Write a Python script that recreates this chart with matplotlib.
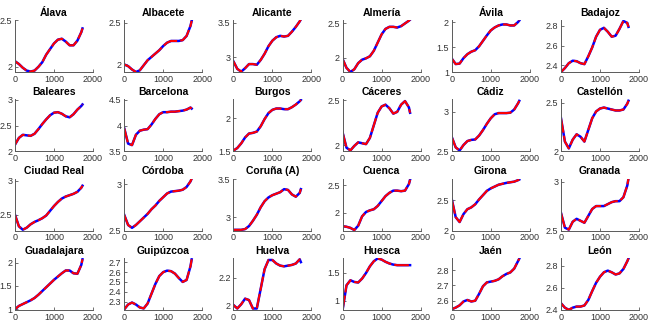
import numpy as np
import matplotlib
matplotlib.use('Agg')
import matplotlib.pyplot as plt
from matplotlib.ticker import FuncFormatter

plt.rcParams['font.family'] = ['Liberation Sans', 'DejaVu Sans']

x = [0, 100, 200, 300, 400, 500, 600, 700, 800, 900, 1000,
     1100, 1200, 1300, 1400, 1500, 1600, 1700, 1730]

provinces = ['Álava', 'Albacete', 'Alicante', 'Almería', 'Ávila', 'Badajoz',
             'Baleares', 'Barcelona', 'Burgos', 'Cáceres', 'Cádiz', 'Castellón',
             'Ciudad Real', 'Córdoba', 'Coruña (A)', 'Cuenca', 'Girona', 'Granada',
             'Guadalajara', 'Guipúzcoa', 'Huelva', 'Huesca', 'Jaén', 'León']

alava = [2.06, 2.03, 1.99, 1.96, 1.95, 1.96, 2.00, 2.05, 2.13, 2.19, 2.25,
         2.29, 2.30, 2.27, 2.23, 2.23, 2.28, 2.37, 2.41]
albacete = [2.00, 1.98, 1.94, 1.91, 1.93, 1.99, 2.05, 2.09, 2.13, 2.17, 2.22,
            2.26, 2.28, 2.28, 2.28, 2.29, 2.34, 2.46, 2.52]
alicante = [2.94, 2.83, 2.79, 2.84, 2.90, 2.90, 2.89, 2.96, 3.05, 3.16, 3.24,
            3.29, 3.31, 3.30, 3.31, 3.37, 3.44, 3.52, 3.55]
almeria = [1.98, 1.85, 1.79, 1.83, 1.92, 1.97, 1.99, 2.02, 2.10, 2.22, 2.34,
           2.42, 2.45, 2.45, 2.44, 2.46, 2.50, 2.54, 2.555]
avila = [1.27, 1.16, 1.17, 1.28, 1.36, 1.41, 1.44, 1.52, 1.63, 1.74, 1.84,
         1.90, 1.94, 1.96, 1.96, 1.94, 1.94, 2.01, 2.04]
badajoz = [2.33, 2.37, 2.42, 2.445, 2.44, 2.42, 2.41, 2.49, 2.58, 2.69, 2.76,
           2.78, 2.74, 2.69, 2.70, 2.77, 2.85, 2.83, 2.79]
baleares = [2.13, 2.26, 2.32, 2.31, 2.30, 2.34, 2.43, 2.53, 2.62, 2.70, 2.75,
            2.76, 2.73, 2.68, 2.66, 2.72, 2.81, 2.88, 2.91]
barcelona = [3.95, 3.65, 3.62, 3.82, 3.90, 3.92, 3.93, 4.02, 4.13, 4.22, 4.26,
             4.26, 4.27, 4.27, 4.28, 4.29, 4.31, 4.35, 4.33]
burgos = [1.51, 1.55, 1.62, 1.71, 1.77, 1.78, 1.80, 1.88, 1.99, 2.08, 2.13,
          2.15, 2.15, 2.14, 2.14, 2.17, 2.21, 2.26, 2.28]
caceres = [2.14, 1.97, 1.94, 1.99, 2.03, 2.02, 2.01, 2.08, 2.22, 2.36, 2.43,
           2.45, 2.41, 2.35, 2.37, 2.45, 2.49, 2.42, 2.36]
cadiz = [2.68, 2.55, 2.51, 2.58, 2.63, 2.645, 2.65, 2.70, 2.77, 2.85, 2.92,
         2.97, 2.985, 2.985, 2.985, 2.99, 3.03, 3.11, 3.14]
castellon = [2.34, 2.10, 2.03, 2.12, 2.175, 2.15, 2.10, 2.22, 2.34, 2.41, 2.44,
             2.45, 2.44, 2.43, 2.42, 2.42, 2.43, 2.49, 2.52]
ciudad_real = [2.50, 2.33, 2.28, 2.31, 2.36, 2.395, 2.42, 2.45, 2.49, 2.56, 2.63,
               2.69, 2.74, 2.77, 2.79, 2.81, 2.84, 2.90, 2.93]
cordoba = [2.67, 2.56, 2.53, 2.56, 2.60, 2.64, 2.68, 2.73, 2.77, 2.82, 2.86,
           2.90, 2.92, 2.925, 2.93, 2.94, 2.97, 3.03, 3.06]
coruna = [2.83, 2.83, 2.83, 2.84, 2.88, 2.95, 3.03, 3.13, 3.21, 3.26, 3.29,
          3.31, 3.33, 3.37, 3.36, 3.30, 3.27, 3.32, 3.37]
cuenca = [1.75, 1.74, 1.72, 1.68, 1.76, 1.93, 2.01, 2.04, 2.06, 2.12, 2.21,
          2.30, 2.36, 2.40, 2.40, 2.39, 2.40, 2.52, 2.60]
girona = [2.51, 2.22, 2.14, 2.27, 2.35, 2.38, 2.43, 2.51, 2.58, 2.65, 2.69,
          2.72, 2.75, 2.765, 2.78, 2.79, 2.80, 2.825, 2.835]
granada = [2.68, 2.53, 2.51, 2.59, 2.62, 2.60, 2.58, 2.65, 2.72, 2.75, 2.75,
           2.75, 2.77, 2.79, 2.80, 2.80, 2.84, 2.96, 3.03]
guadalajara = [1.00, 1.07, 1.11, 1.15, 1.19, 1.24, 1.31, 1.39, 1.47, 1.55, 1.63,
               1.70, 1.77, 1.83, 1.83, 1.77, 1.76, 1.95, 2.07]
guipuzcoa = [2.22, 2.27, 2.29, 2.27, 2.24, 2.23, 2.28, 2.38, 2.48, 2.56, 2.60,
             2.615, 2.61, 2.585, 2.54, 2.50, 2.52, 2.66, 2.73]
huelva = [2.005, 1.98, 2.01, 2.05, 2.04, 1.98, 1.98, 2.12, 2.26, 2.325, 2.325,
          2.30, 2.285, 2.28, 2.285, 2.29, 2.30, 2.33, 2.31]
huesca = [0.84, 1.28, 1.37, 1.34, 1.33, 1.40, 1.50, 1.62, 1.71, 1.76, 1.74,
          1.70, 1.67, 1.65, 1.64, 1.64, 1.64, 1.64, 1.64]
jaen = [2.545, 2.555, 2.57, 2.595, 2.605, 2.595, 2.60, 2.645, 2.695, 2.72, 2.725,
        2.73, 2.74, 2.76, 2.775, 2.785, 2.81, 2.86, 2.875]
leon = [2.46, 2.42, 2.40, 2.42, 2.43, 2.43, 2.44, 2.49, 2.57, 2.645, 2.70,
        2.74, 2.755, 2.74, 2.72, 2.73, 2.77, 2.84, 2.865]

series = [alava, albacete, alicante, almeria, avila, badajoz,
          baleares, barcelona, burgos, caceres, cadiz, castellon,
          ciudad_real, cordoba, coruna, cuenca, girona, granada,
          guadalajara, guipuzcoa, huelva, huesca, jaen, leon]

# axis limits and ticks for each panel
ylims = [(1.945, 2.5), (1.91, 2.53), (2.785, 3.54), (1.79, 2.55), (1.0, 2.05), (2.33, 2.86),
         (2.0, 3.01), (3.5, 4.51), (1.5, 2.29), (1.93, 2.51), (2.5, 3.16), (2.0, 2.535),
         (2.267, 3.035), (2.5, 3.06), (2.82, 3.51), (1.67, 2.62), (2.0, 2.85), (2.5, 3.03),
         (0.985, 2.1), (2.215, 2.745), (1.97, 2.34), (0.84, 1.77), (2.54, 2.88), (2.4, 2.87)]
yticks = [[2, 2.5], [2, 2.5], [3, 3.5], [2, 2.5], [1, 1.5, 2], [2.4, 2.6, 2.8],
          [2, 2.5, 3], [3.5, 4, 4.5], [1.5, 2], [2, 2.5], [2.5, 3], [2, 2.5],
          [2.5, 3], [2.5, 3], [3, 3.5], [2, 2.5], [2, 2.5], [2.5, 3],
          [1, 1.5, 2], [2.3, 2.4, 2.5, 2.6, 2.7], [2, 2.2], [1, 1.5], [2.6, 2.7, 2.8], [2.4, 2.6, 2.8]]

W, H = 654, 327
fig = plt.figure(figsize=(W / 100, H / 100), dpi=100)

gray = '#5a5a5a'
for i, (name, y) in enumerate(zip(provinces, series)):
    r, c = divmod(i, 6)
    left = 15 + 109.2 * c
    top = 20 + 79.3 * r
    ax = fig.add_axes([left / W, 1 - (top + 52) / H, 78 / W, 52 / H])
    # blue fit underneath, red dashed fit on top
    ax.plot(x, y, color='blue', lw=1.8)
    ax.plot(x, y, color='red', lw=1.5, ls=(0, (7, 1.5)))
    ax.set_xlim(0, 2000)
    ax.set_ylim(*ylims[i])
    ax.set_xticks([0, 1000, 2000])
    ax.set_yticks(yticks[i])
    ax.yaxis.set_major_formatter(FuncFormatter(lambda v, p: '%g' % v))
    ax.spines['top'].set_visible(False)
    ax.spines['right'].set_visible(False)
    for s in ('left', 'bottom'):
        ax.spines[s].set_color(gray)
        ax.spines[s].set_linewidth(0.7)
    ax.tick_params(direction='in', length=2, width=0.6, colors=gray,
                   labelcolor='#333333', labelsize=6.5, pad=2)
    ax.set_title(name, fontsize=7.5, fontweight='bold', pad=3)

fig.savefig('out.png', dpi=100)
